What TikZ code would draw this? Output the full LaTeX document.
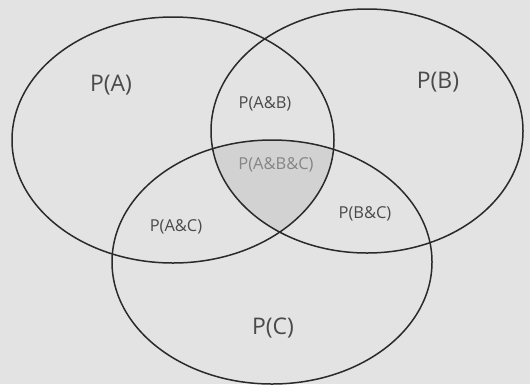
\documentclass[tikz,border=0pt]{standalone}
\usepackage{fontspec}
\setmainfont{Open Sans}
\definecolor{bg}{HTML}{E3E3E3}
\definecolor{mid}{HTML}{D2D2D2}
\definecolor{ink}{HTML}{2A2A2A}
\definecolor{txt}{HTML}{4A4A4A}
\definecolor{ltxt}{HTML}{858585}
\tikzset{
  setline/.style={draw=ink, line width=1.5bp},
  biglabel/.style={text=txt, font=\fontsize{23}{25}\selectfont, inner sep=0pt},
  smalllabel/.style={text=txt, font=\fontsize{16.5}{18}\selectfont, inner sep=0pt},
}
\begin{document}
\begin{tikzpicture}[x=1bp,y=-1bp]
\fill[bg] (0,0) rectangle (530,384);
\useasboundingbox (0,0) rectangle (530,384);
\clip (0,0) rectangle (530,384);
\begin{scope}
  \clip (173,140) ellipse [x radius=161, y radius=123];
  \clip (367,131) ellipse [x radius=156, y radius=122];
  \fill[mid] (272,262) ellipse [x radius=160, y radius=122];
\end{scope}
\draw[setline] (173,140) ellipse [x radius=161, y radius=123];
\draw[setline] (367,131) ellipse [x radius=156, y radius=122];
\draw[setline] (272,262) ellipse [x radius=160, y radius=122];
\node[biglabel] (pa) at (111,85) {P(A)};
\node[biglabel] (pb) at (438,82) {P(B)};
\node[biglabel] (pc) at (273,328) {P(C)};
\node[smalllabel] (pab) at (265,104) {P(A\&B)};
\node[smalllabel, text=ltxt] (pabc) at (276,165) {P(A\&B\&C)};
\node[smalllabel] (pac) at (176,227) {P(A\&C)};
\node[smalllabel] (pbc) at (365,214) {P(B\&C)};
\end{tikzpicture}
\end{document}
